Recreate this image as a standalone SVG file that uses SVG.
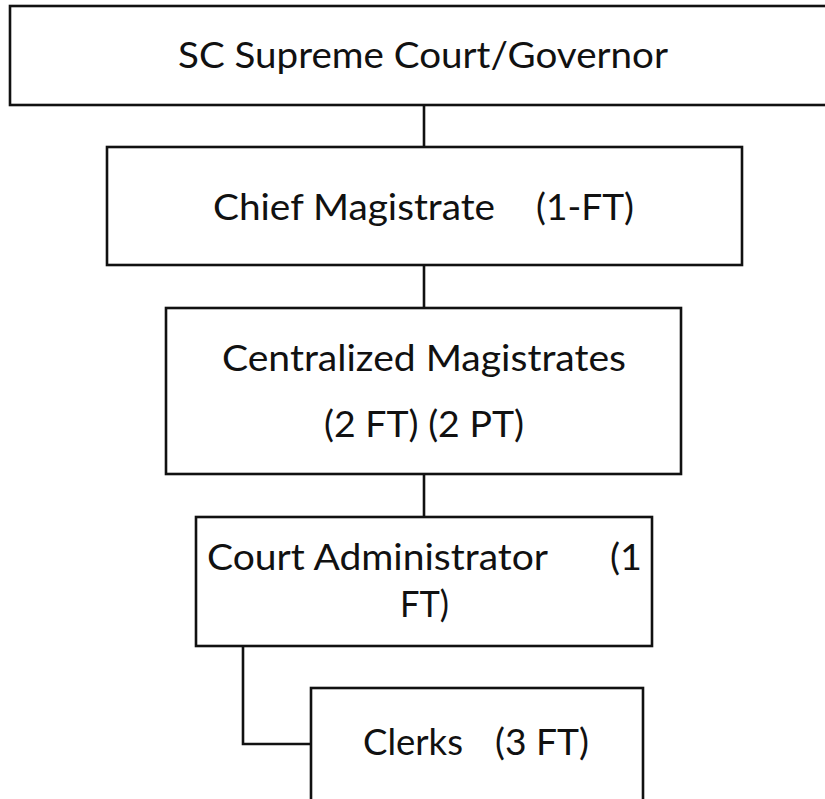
<svg xmlns="http://www.w3.org/2000/svg" width="825" height="799" viewBox="0 0 825 799">
<style>
.box{fill:#ffffff;stroke:#111111;stroke-width:2.6}
.lbl{font-family:Lato,"Open Sans","Liberation Sans",sans-serif;font-size:37px;fill:#111111}
.conn{fill:none;stroke:#111111;stroke-width:2.6}
</style>
<rect width="825" height="799" fill="#ffffff"/>
<g id="connectors">
<line class="conn" x1="424" y1="105" x2="424" y2="147"/>
<line class="conn" x1="424" y1="265" x2="424" y2="308"/>
<line class="conn" x1="424" y1="474" x2="424" y2="517"/>
<polyline class="conn" points="243,646 243,744 311,744"/>
</g>
<g id="supreme-court">
<rect class="box" x="10" y="6" width="830" height="99"/>
<text class="lbl" x="178" y="68" textLength="490" lengthAdjust="spacingAndGlyphs">SC Supreme Court/Governor</text>
</g>
<g id="chief-magistrate">
<rect class="box" x="107" y="147" width="635" height="118"/>
<text class="lbl" x="213" y="220" textLength="282" lengthAdjust="spacingAndGlyphs">Chief Magistrate</text>
<text class="lbl" x="536" y="220" textLength="98" lengthAdjust="spacingAndGlyphs">(1-FT)</text>
</g>
<g id="centralized-magistrates">
<rect class="box" x="166" y="308" width="515" height="166"/>
<text class="lbl" x="222" y="371" textLength="404" lengthAdjust="spacingAndGlyphs">Centralized Magistrates</text>
<text class="lbl" x="324" y="437" textLength="200" lengthAdjust="spacingAndGlyphs">(2 FT) (2 PT)</text>
</g>
<g id="court-administrator">
<rect class="box" x="196" y="517" width="456" height="129"/>
<text class="lbl" x="207" y="570" textLength="341" lengthAdjust="spacingAndGlyphs">Court Administrator</text>
<text class="lbl" x="610" y="570" textLength="32" lengthAdjust="spacingAndGlyphs">(1</text>
<text class="lbl" x="400" y="617" textLength="49" lengthAdjust="spacingAndGlyphs">FT)</text>
</g>
<g id="clerks">
<rect class="box" x="311" y="688" width="332" height="130"/>
<text class="lbl" x="363" y="755" textLength="100" lengthAdjust="spacingAndGlyphs">Clerks</text>
<text class="lbl" x="495" y="755" textLength="94" lengthAdjust="spacingAndGlyphs">(3 FT)</text>
</g>
</svg>
